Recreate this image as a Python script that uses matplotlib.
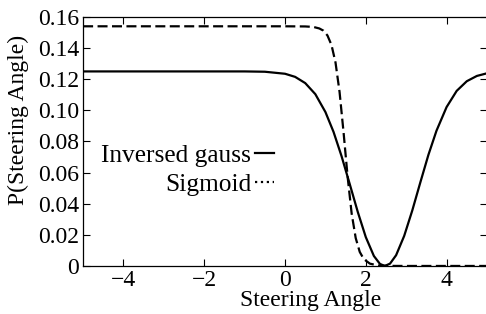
import matplotlib
matplotlib.use('Agg')
import matplotlib.pyplot as plt
from matplotlib.lines import Line2D
from matplotlib.ticker import FuncFormatter

plt.rc('font', family=['Liberation Serif', 'DejaVu Serif'], size=17)

# Inversed gauss curve
gauss_x = [-5, -3, -1, -0.5, 0, 0.25, 0.5, 0.75, 1.0, 1.2, 1.4, 1.6, 1.8, 2.0, 2.2, 2.35,
           2.47, 2.6, 2.75, 2.95, 3.15, 3.35, 3.55, 3.75, 4.0, 4.25, 4.5, 4.75, 5.0]
gauss_y = [0.125, 0.125, 0.125, 0.1248, 0.1235, 0.1215, 0.1175, 0.1104, 0.0989, 0.0862,
           0.0705, 0.0528, 0.0348, 0.0185, 0.0064, 0.0013, 0.0, 0.0015, 0.0069, 0.0193,
           0.0356, 0.0537, 0.0714, 0.0869, 0.1021, 0.1125, 0.1187, 0.1221, 0.1238]

# Sigmoid curve
sig_x = [-5, 0, 0.5, 0.7, 0.85, 0.95, 1.05, 1.15, 1.25, 1.35, 1.45, 1.55, 1.65, 1.75,
         1.85, 1.95, 2.1, 2.3, 2.6, 3.0, 5.0]
sig_y = [0.154, 0.154, 0.1539, 0.1536, 0.1526, 0.1512, 0.1481, 0.1420, 0.1307, 0.1118,
         0.0856, 0.0572, 0.0336, 0.0179, 0.0090, 0.0044, 0.0015, 0.0003, 0.00004, 0.0, 0.0]

x_ticks = [-4, -2, 0, 2, 4]
y_ticks = [0, 0.02, 0.04, 0.06, 0.08, 0.10, 0.12, 0.14, 0.16]

fig = plt.figure(figsize=(4.86, 3.14), dpi=100)
ax = fig.add_axes([0.171, 0.153, 0.831, 0.793])

ax.plot(gauss_x, gauss_y, color='black', lw=1.6, solid_capstyle='butt')
ax.plot(sig_x, sig_y, color='black', lw=1.6, dashes=(4.5, 2.0))

ax.set_xlim(-5, 5)
ax.set_ylim(0, 0.16)
ax.set_xticks(x_ticks)
ax.set_yticks(y_ticks)
ax.yaxis.set_major_formatter(FuncFormatter(lambda v, p: '0' if v == 0 else '%.2f' % v))
ax.xaxis.set_major_formatter(FuncFormatter(lambda v, p: ('%d' % v).replace('-', '\u2212')))
ax.tick_params(direction='in', which='both', top=True, right=True, length=5, width=0.8,
               pad=3, labelsize=17)
for s in ax.spines.values():
    s.set_linewidth(0.9)

ax.set_xlabel('Steering Angle', fontsize=17)
ax.xaxis.set_label_coords(0.564, -0.095)
ax.set_ylabel('P(Steering Angle)', fontsize=17)
ax.yaxis.set_label_coords(-0.135, 0.586)

handles = [Line2D([], [], color='black', lw=1.6, ls='-'),
           Line2D([], [], color='black', lw=1.6, ls=':')]
ax.legend(handles, ['Inversed gauss', 'Sigmoid'], loc='center left', bbox_to_anchor=(-0.012, 0.385),
          frameon=False, markerfirst=False, handlelength=0.75, handletextpad=0.15,
          labelspacing=0.27, fontsize=18.3)

fig.savefig('out.png', dpi=100)
